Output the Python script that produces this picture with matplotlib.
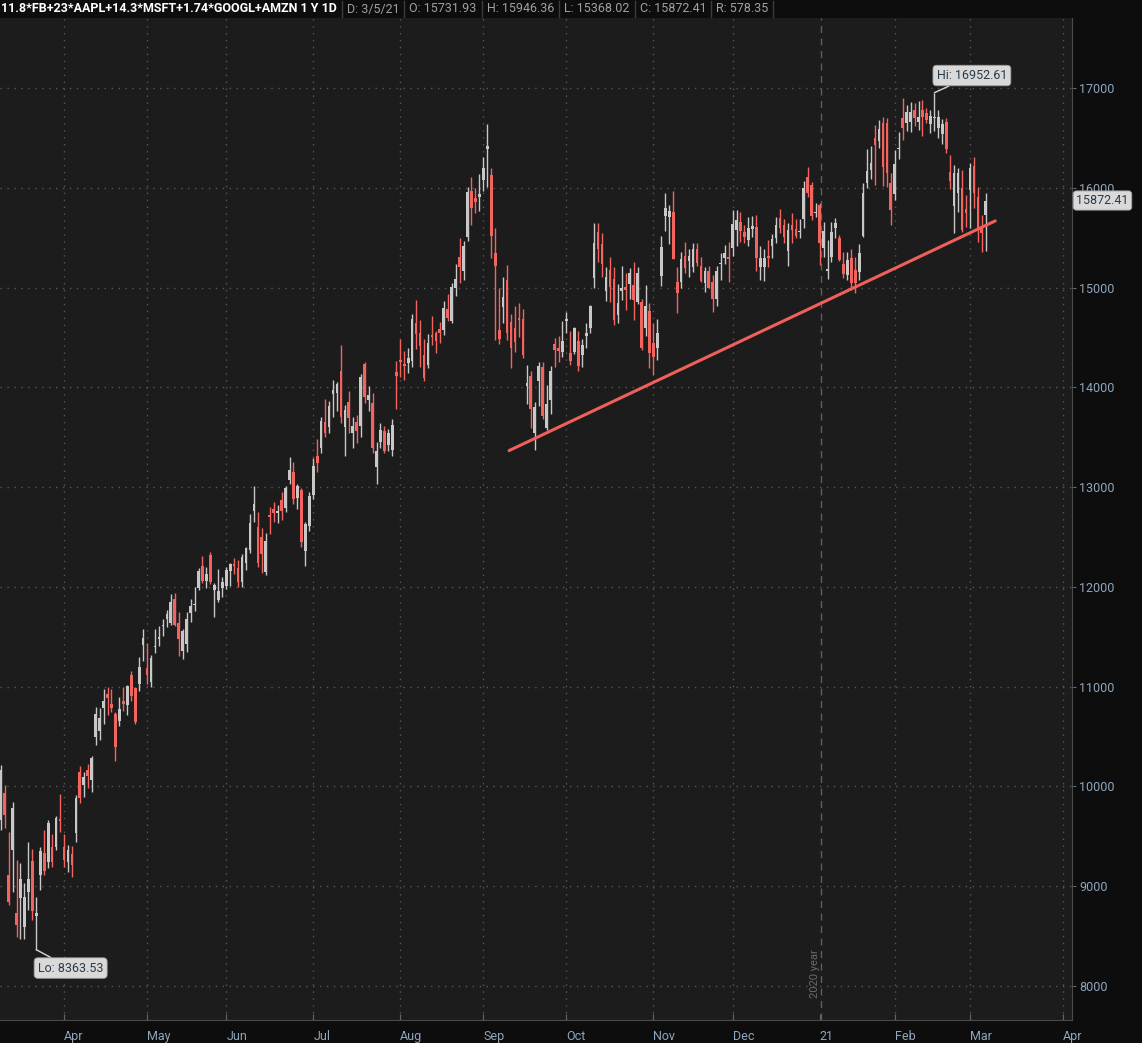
import matplotlib
matplotlib.use("Agg")
import matplotlib.pyplot as plt
from matplotlib.lines import Line2D
import matplotlib.transforms as mtransforms

# daily candles, trading-day index (0 = 1 Apr 2020), first visible day = -16
first_day = -16
opens = [
    9666, 9936, 9115, 9365, 8734, 8884, 8594, 8944, 9255, 8704, 9115, 9335, 9245, 9395, 9395, 9676,
    9395, 9245, 9325, 9536, 10146, 10016, 10167, 10066, 10497, 10557, 10788, 10928, 10828, 10728,
    10658, 10858, 10818, 11119, 10988, 11028, 11419, 11189, 11048, 11399, 11479, 11610, 11680, 11640,
    11880, 11640, 11359, 11429, 11740, 11820, 11990, 12211, 12060, 12321, 11970, 11870, 11990, 12010,
    12160, 12231, 12191, 12050, 12241, 12371, 12762, 12602, 12501, 12150, 12722, 12782, 12742, 12872,
    12792, 13072, 13152, 12892, 12972, 12361, 12612, 12922, 13313, 13393, 13654, 13603, 13934, 13944,
    14165, 13603, 13854, 13543, 13654, 13613, 14235, 13874, 13844, 13203, 13453, 13563, 13423, 13373,
    14155, 14275, 14235, 14245, 14265, 14646, 14546, 14325, 14225, 14526, 14546, 14586, 14576, 14786,
    14666, 14997, 15307, 15167, 15507, 15968, 15898, 15908, 16078, 16389, 16128, 15347, 14576, 14806,
    15077, 14656, 14596, 14696, 14686, 14014, 14115, 13543, 14064, 14205, 13593, 13874, 14435, 14395,
    14355, 14666, 14345, 14355, 14466, 14325, 14516, 14596, 15097, 15557, 15437, 14966, 15177, 15087,
    14726, 14966, 15006, 15036, 15026, 14856, 14856, 14596, 14766, 14445, 14395, 15117, 15718, 15708,
    15758, 15056, 15056, 15317, 15267, 15207, 15387, 15217, 15046, 15167, 15056, 14886, 15237, 15297,
    15307, 15397, 15578, 15658, 15557, 15477, 15587, 15607, 15207, 15207, 15317, 15417, 15497, 15698,
    15627, 15367, 15627, 15587, 15557, 15688, 16108, 16028, 15748, 15828, 15397, 15167, 15307, 15597,
    15497, 15237, 15127, 15297, 15177, 15157, 15517, 16048, 16178, 16499, 16469, 16650, 16650, 16048,
    15938, 16389, 16700, 16650, 16660, 16780, 16660, 16780, 16750, 16640, 16700, 16600, 16539, 16660,
    16158, 15818, 15948, 15998, 15788, 15978, 16219, 15908, 15587, 15731.93,
]
highs = [
    10217, 10016, 9545, 9846, 9265, 9235, 9035, 9445, 9375, 8894, 9395, 9565, 9666, 9525, 9706, 9926,
    9525, 9415, 9405, 9916, 10207, 10146, 10227, 10307, 10798, 10788, 10978, 10998, 10978, 10748,
    10898, 10998, 11018, 11159, 10998, 11299, 11580, 11439, 11319, 11580, 11610, 11680, 11770, 11930,
    11940, 11750, 11580, 11750, 11880, 12000, 12190, 12311, 12200, 12351, 12040, 12180, 12100, 12200,
    12241, 12291, 12271, 12331, 12401, 12732, 13012, 12752, 12592, 12541, 12802, 12852, 12822, 12952,
    13012, 13303, 13253, 13032, 12992, 12652, 12952, 13293, 13483, 13704, 13884, 13864, 14074, 14054,
    14425, 13824, 13964, 13704, 13724, 14135, 14255, 14014, 13944, 13453, 13643, 13613, 13583, 13684,
    14265, 14485, 14365, 14395, 14736, 14876, 14676, 14485, 14536, 14716, 14566, 14656, 14866, 14936,
    15046, 15237, 15497, 15467, 16008, 16108, 15998, 16138, 16309, 16640, 16198, 15597, 14996, 15106,
    15227, 14736, 14816, 14846, 14786, 14225, 14165, 13854, 14255, 14255, 14024, 14215, 14496, 14516,
    14666, 14756, 14566, 14606, 14566, 14486, 14646, 14826, 15647, 15647, 15547, 15207, 15307, 15207,
    15036, 15217, 15147, 15197, 15257, 15207, 14886, 15026, 14846, 14646, 14686, 15517, 15948, 15828,
    15968, 15207, 15357, 15457, 15387, 15447, 15447, 15307, 15207, 15217, 15127, 15217, 15347, 15427,
    15457, 15778, 15778, 15758, 15627, 15708, 15718, 15728, 15417, 15387, 15477, 15537, 15708, 15788,
    15688, 15648, 15748, 15688, 15688, 16068, 16209, 16058, 15848, 15848, 15658, 15477, 15658, 15698,
    15527, 15357, 15357, 15387, 15307, 15437, 16048, 16389, 16419, 16630, 16680, 16710, 16700, 16148,
    16379, 16559, 16900, 16830, 16860, 16850, 16870, 16880, 16800, 16780, 16952.61, 16780, 16690, 16700,
    16329, 16229, 16199, 16179, 15928, 16249, 16309, 16008, 15728, 15946.36,
]
lows = [
    9565, 9586, 8814, 8944, 8493, 8473, 8473, 8764, 8664, 8363.53, 8964, 9115, 9185, 9195, 9365, 9545,
    9195, 9145, 9095, 9445, 9836, 9896, 9987, 9946, 10417, 10467, 10627, 10718, 10748, 10256,
    10607, 10758, 10718, 10858, 10627, 10958, 11259, 11028, 10998, 11339, 11409, 11509, 11600, 11620,
    11610, 11309, 11279, 11349, 11650, 11760, 11970, 12040, 11990, 12030, 11700, 11850, 11900, 11980,
    12010, 12130, 12000, 12000, 12170, 12341, 12652, 12201, 12140, 12120, 12531, 12652, 12642, 12672,
    12752, 13032, 12832, 12782, 12401, 12211, 12561, 12882, 13152, 13343, 13503, 13543, 13704, 13764,
    13643, 13313, 13543, 13393, 13443, 13503, 13844, 13764, 13343, 13032, 13393, 13343, 13363, 13313,
    13784, 14105, 14074, 14145, 14205, 14385, 14205, 14064, 14195, 14425, 14345, 14445, 14526, 14666,
    14646, 14916, 15046, 15077, 15467, 15627, 15748, 15767, 15968, 16008, 15297, 14475, 14435, 14646,
    14475, 14195, 14355, 14505, 14295, 13834, 13593, 13373, 13814, 13684, 13573, 13734, 14205, 14255,
    14305, 14546, 14225, 14335, 14165, 14205, 14395, 14546, 14996, 15257, 15107, 14866, 14856, 14626,
    14646, 14876, 14776, 14886, 14676, 14836, 14375, 14516, 14195, 14125, 14275, 15016, 15567, 15437,
    15287, 14746, 14996, 15147, 15107, 15157, 15217, 15056, 14956, 14996, 14756, 14816, 15077, 15237,
    15056, 15317, 15417, 15457, 15447, 15417, 15507, 15167, 15077, 15066, 15207, 15297, 15447, 15547,
    15447, 15217, 15447, 15497, 15497, 15597, 15908, 15677, 15708, 15227, 15307, 15086, 15257, 15497,
    15267, 15096, 15077, 14976, 14946, 15077, 15507, 15998, 16088, 16028, 16399, 16018, 16008, 15627,
    15878, 16289, 16479, 16569, 16559, 16619, 16579, 16519, 16649, 16549, 16569, 16499, 16439, 16349,
    15988, 15547, 15758, 15557, 15607, 15597, 15798, 15457, 15357, 15368.02,
]
closes = [
    10167, 9715, 8844, 9786, 8614, 9075, 8894, 9075, 8754, 8734, 9355, 9155, 9636, 9245, 9686, 9656,
    9265, 9365, 9215, 9886, 9886, 10096, 10107, 10287, 10728, 10688, 10858, 10888, 10788, 10397,
    10778, 10828, 11008, 10908, 10647, 11199, 11489, 11119, 11289, 11409, 11499, 11620, 11730, 11850,
    11620, 11479, 11559, 11680, 11810, 11830, 12160, 12060, 12130, 12050, 12020, 11960, 12050, 12170,
    12231, 12211, 12050, 12301, 12391, 12642, 12832, 12241, 12331, 12461, 12702, 12742, 12762, 12762,
    12992, 13172, 12882, 13012, 12451, 12632, 12912, 13213, 13243, 13664, 13543, 13814, 13974, 14034,
    13704, 13774, 13694, 13613, 13563, 14105, 13904, 13924, 13393, 13363, 13574, 13363, 13543, 13624,
    14115, 14255, 14215, 14295, 14686, 14536, 14415, 14095, 14445, 14506, 14466, 14546, 14796, 14696,
    15006, 15087, 15207, 15417, 15958, 15798, 15858, 15938, 16198, 16419, 15517, 15217, 14486, 14906,
    14546, 14395, 14455, 14676, 14325, 14044, 13784, 13804, 14215, 13714, 13834, 14165, 14375, 14365,
    14466, 14686, 14265, 14596, 14215, 14425, 14546, 14816, 15447, 15387, 15237, 15107, 15006, 14676,
    14846, 14996, 14976, 15147, 14876, 15147, 14395, 14816, 14345, 14305, 14546, 15407, 15798, 15768,
    15287, 14946, 15287, 15197, 15317, 15387, 15247, 15067, 15167, 14996, 14886, 15167, 15247, 15347,
    15287, 15637, 15678, 15567, 15507, 15597, 15617, 15297, 15297, 15297, 15297, 15487, 15627, 15597,
    15507, 15577, 15577, 15517, 15567, 15998, 15948, 15718, 15758, 15447, 15567, 15187, 15557, 15648,
    15277, 15137, 15277, 15046, 15046, 15347, 15948, 16168, 16249, 16429, 16589, 16209, 16148, 15778,
    16239, 16399, 16600, 16760, 16760, 16700, 16710, 16710, 16680, 16720, 16710, 16710, 16640, 16389,
    16068, 16148, 16148, 15577, 15748, 16199, 15948, 15587, 15547, 15872.41,
]

month_labels = ["Apr", "May", "Jun", "Jul", "Aug", "Sep", "Oct", "Nov", "Dec", "21", "Feb", "Mar", "Apr"]
month_pos = [0, 21, 41, 63, 85, 106, 127, 149, 169, 191, 210, 229, 252.5]
year_break = 191.3

# support line drawn by hand on the chart
trend_x = [112.5, 235.4]
trend_y = [13366, 15668]

hi_day, hi_val = 220, 16952.61
lo_day, lo_val = -7, 8363.53
last_close = 15872.41

title = "11.8*FB+23*AAPL+14.3*MSFT+1.74*GOOGL+AMZN 1 Y 1D"
fields = ["D: 3/5/21", "O: 15731.93", "H: 15946.36", "L: 15368.02", "C: 15872.41", "R: 578.35"]

UP = "#c8c8c8"
DOWN = "#f4645f"
LABEL = "#8fa6bd"
FONT = "Roboto"

W, H = 1142, 1043
fig = plt.figure(figsize=(W / 100, H / 100), dpi=100, facecolor="#0d0d0d")
ax = fig.add_axes([0, 23 / H, 1072 / W, 1002 / H])
ax.set_facecolor("#1c1c1c")

days = [first_day + k for k in range(len(closes))]
colors = [UP if c >= o else DOWN for o, c in zip(opens, closes)]
bottoms = [min(o, c) for o, c in zip(opens, closes)]
heights = [max(abs(c - o), 12) for o, c in zip(opens, closes)]

ax.vlines(days, lows, highs, colors=colors, lw=1, zorder=2)
ax.bar(days, heights, bottom=bottoms, width=0.68, color=colors, zorder=3)

ax.plot(trend_x, trend_y, color="#f0605a", lw=2.2, solid_capstyle="round", zorder=4)

ax.set_xlim(-16.18, 254.8)
ax.set_ylim(7659.5, 17701.5)

# grid
for y in range(8000, 18000, 1000):
    ax.axhline(y, color="#585858", lw=1, ls=(0, (1, 4)), zorder=1)
for p in month_pos:
    if p == 191:
        continue
    ax.axvline(p, color="#585858", lw=1, ls=(0, (1, 4)), zorder=1)
ax.axvline(year_break, color="#5e5e5e", lw=1, ls=(0, (5, 4)), zorder=1)
ax.text(189.8, 8121, "2020 year", rotation=90, color="#6a6a6a", fontsize=8,
        family=FONT, ha="center", va="center")

# axes styling
for side in ["top", "left"]:
    ax.spines[side].set_visible(False)
for side in ["bottom", "right"]:
    ax.spines[side].set_color("#4a4a4a")

ax.set_xticks(month_pos)
ax.set_xticklabels(month_labels)
ax.tick_params(axis="x", direction="in", length=4, color="#666666", labelcolor=LABEL,
               labelsize=9, pad=7)
for lbl in ax.get_xticklabels():
    lbl.set_ha("left")
    lbl.set_family(FONT)

ax.yaxis.tick_right()
ax.set_yticks(range(8000, 18000, 1000))
ax.tick_params(axis="y", direction="out", length=3, color="#666666", labelcolor=LABEL,
               labelsize=9, pad=2)
for lbl in ax.get_yticklabels():
    lbl.set_family(FONT)

# hi / lo bubbles
bubble = dict(boxstyle="round,pad=0.3", fc="#d9d9d9", ec="#9a9a9a", lw=0.6)
ax.annotate(f"Hi: {hi_val}", xy=(hi_day, hi_val), xytext=(220.6, 17125),
            ha="left", va="center", fontsize=9, family=FONT, color="#2b3a48", bbox=bubble,
            arrowprops=dict(arrowstyle="-", color="#d9d9d9", lw=1, shrinkA=0, shrinkB=0), zorder=6)
ax.annotate(f"Lo: {lo_val}", xy=(lo_day, lo_val), xytext=(-6.6, 8180),
            ha="left", va="center", fontsize=9, family=FONT, color="#2b3a48", bbox=bubble,
            arrowprops=dict(arrowstyle="-", color="#d9d9d9", lw=1, shrinkA=0, shrinkB=0), zorder=6)

# last price tag on the price axis
trans = mtransforms.blended_transform_factory(ax.transAxes, ax.transData)
ax.text(1.004, last_close, f"{last_close}", transform=trans, ha="left", va="center",
        fontsize=9, family=FONT, color="#2b3a48", clip_on=False,
        bbox=dict(boxstyle="round,pad=0.25", fc="#d9d9d9", ec="#9a9a9a", lw=0.6))

# top info bar
renderer = fig.canvas.get_renderer()
ty = 1 - 9 / H
t = fig.text(1 / W, ty, title, color="white", fontsize=9, fontweight="bold",
             family=FONT, ha="left", va="center")
x = t.get_window_extent(renderer).x1 + 5
for f in fields:
    fig.add_artist(Line2D([x / W, x / W], [1 - 17 / H, 1 - 1 / H], transform=fig.transFigure,
                          color="#3c3c3c", lw=1))
    t = fig.text((x + 5) / W, ty, f, color="#a0a0a0", fontsize=9, family=FONT,
                 ha="left", va="center")
    x = t.get_window_extent(renderer).x1 + 5
fig.add_artist(Line2D([x / W, x / W], [1 - 17 / H, 1 - 1 / H], transform=fig.transFigure,
                      color="#3c3c3c", lw=1))

fig.savefig("out.png", dpi=100, facecolor=fig.get_facecolor())
plt.close(fig)
